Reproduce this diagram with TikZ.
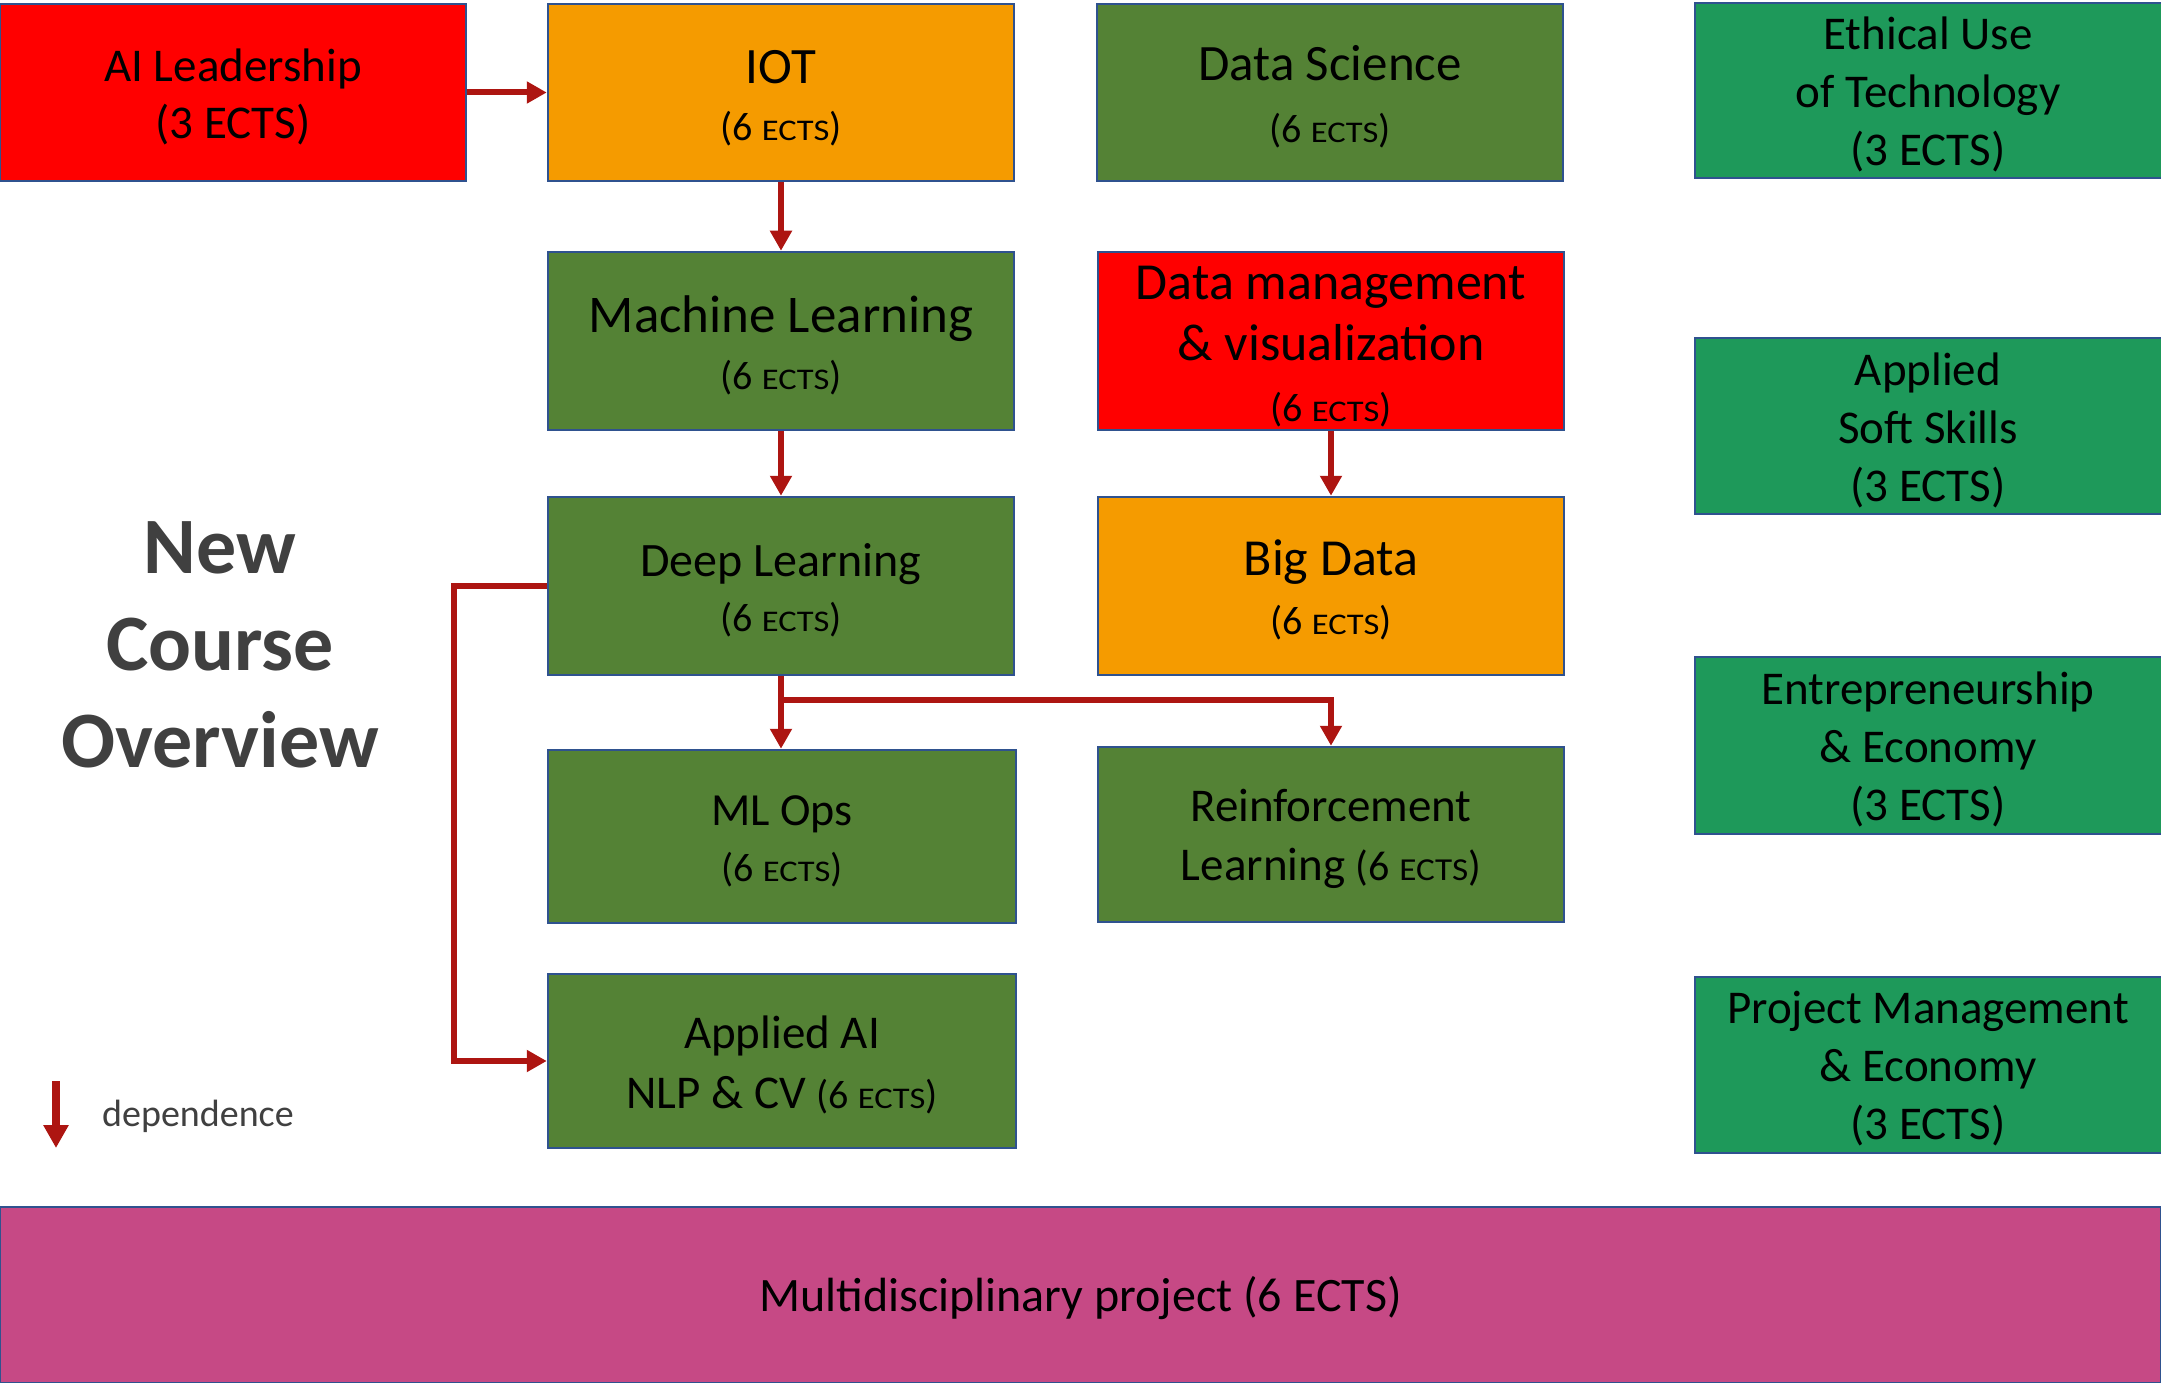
\documentclass[tikz,border=0pt]{standalone}
\usepackage{fontspec}
\setmainfont{Carlito}
\usepackage{graphicx}
\usetikzlibrary{arrows.meta}
\definecolor{bordc}{HTML}{2F528F}
\definecolor{redc}{HTML}{FF0000}
\definecolor{orc}{HTML}{F59B00}
\definecolor{olc}{HTML}{548235}
\definecolor{tealc}{HTML}{1E995A}
\definecolor{magc}{HTML}{C64985}
\definecolor{arrc}{HTML}{AD1511}
\definecolor{grayt}{HTML}{404040}
\newcommand{\fsz}[2]{\fontsize{#1}{#2}\selectfont}
\newcommand{\ectsw}{{\fsz{30}{30}\scalebox{1.15}[1]{ECTS}}}
\newcommand{\sixects}{{\fsz{40}{40}(6 \ectsw)}}
\begin{document}
\begin{tikzpicture}[x=1pt,y=-1pt,
  box/.style={draw=bordc, line width=2.5pt, minimum width=466pt, minimum height=177pt,
    inner sep=0pt},
  lbl/.style={align=center, inner sep=0pt, text=black, yshift=-4pt},
  side/.style={box, fill=tealc, minimum width=480pt},
  sidelbl/.style={lbl, xshift=-7pt, font=\fsz{47}{58}},
  dep/.style={draw=arrc, line width=6pt, -{Triangle[width=21pt,length=20pt]}},
]
\useasboundingbox (0,0) rectangle (2161,1383);
% row 1
\node[box, fill=redc, label={[lbl, name=ailt, yshift=-0.5pt, font=\fsz{47}{57}]center:{AI Leadership\\(3 ECTS)}}] (ail) at (233,92.5) {};
\node[box, fill=orc, label={[lbl, name=iott, yshift=-2pt, font=\fsz{51}{57}]center:{IOT\\\sixects}}] (iot) at (781,92.5) {};
\node[box, fill=olc, label={[lbl, name=dst, font=\fsz{51}{62}]center:{Data Science\\\sixects}}] (ds) at (1330,92.5) {};
\node[side, minimum height=175pt, label={[sidelbl, name=etht]center:{Ethical Use\\of Technology\\(3 ECTS)}}] (eth) at (1935,90.5) {};
% row 2
\node[box, fill=olc, minimum height=178pt, label={[lbl, name=mlt, font=\fsz{53}{57}]center:{Machine Learning\\\sixects}}] (ml) at (781,341) {};
\node[box, fill=redc, minimum height=178pt, label={[lbl, name=dmt, yshift=-2pt, font=\fsz{52}{61}]center:{Data management\\\& visualization\\\sixects}}] (dm) at (1331,341) {};
\node[side, minimum height=176pt, label={[sidelbl, name=asst]center:{Applied\\Soft Skills\\(3 ECTS)}}] (ass) at (1935,426) {};
% row 3
\node[box, fill=olc, minimum height=178pt, label={[lbl, name=dlt, font=\fsz{48}{55}]center:{Deep Learning\\\sixects}}] (dl) at (781,586) {};
\node[box, fill=orc, minimum height=178pt, label={[lbl, name=bdt, font=\fsz{52}{59}]center:{Big Data\\\sixects}}] (bd) at (1331,586) {};
\node[side, minimum height=177pt, label={[sidelbl, name=entt]center:{Entrepreneurship\\\& Economy\\(3 ECTS)}}] (ent) at (1935,745.5) {};
% row 4
\node[box, fill=olc, minimum width=468pt, minimum height=173pt, label={[lbl, name=mlopst, yshift=-1pt, font=\fsz{46}{56}]center:{ML Ops\\\sixects}}] (mlops) at (782,836.5) {};
\node[box, fill=olc, minimum height=175pt, label={[lbl, name=rlt, font=\fsz{47}{59}]center:{Reinforcement\\Learning {\fsz{42}{42}(6 {\fsz{32}{32}\scalebox{1.1}[1]{ECTS}})}}}] (rl) at (1331,834.5) {};
% row 5
\node[box, fill=olc, minimum width=468pt, minimum height=174pt, label={[lbl, name=aait, font=\fsz{47}{60}]center:{Applied AI\\NLP \& CV {\fsz{40}{40}(6 \ectsw)}}}] (aai) at (782,1061) {};
\node[side, minimum height=176pt, label={[sidelbl, name=pmt]center:{Project Management\\\& Economy\\(3 ECTS)}}] (pm) at (1935,1065) {};
% bottom
\node[box, fill=magc, minimum width=2161pt, minimum height=176pt, label={[lbl, name=mpt, yshift=1pt, font=\fsz{48}{58}]center:{Multidisciplinary project (6 ECTS)}}] (mp) at (1080.5,1295) {};
% title
\node[align=center, text=grayt, font=\fsz{80}{97}\bfseries] (title) at (220,645) {New\\Course\\Overview};
% legend
\coordinate (lgA) at (56,1081);
\coordinate (lgB) at (56,1148);
\draw[draw=arrc, line width=8pt, -{Triangle[width=24pt,length=23pt]}] (lgA) -- (lgB);
\node[anchor=west, text=grayt, font=\fsz{38}{38}, inner sep=0pt] (lgtext) at (102,1116) {dependence};
% connectors
\draw[dep] (ail.east) -- (iot.west);
\draw[dep] (iot.south) -- (ml.north);
\draw[dep] (ml.south) -- (dl.north);
\draw[dep] (dm.south) -- (bd.north);
\draw[dep] (dl.south) -- (dl.south |- mlops.north);
\draw[dep] (dl.south) -- ++(0,24) -| (rl.north);
\draw[dep] (dl.west) -- ++(-93,0) |- (aai.west);
\end{tikzpicture}
\end{document}
